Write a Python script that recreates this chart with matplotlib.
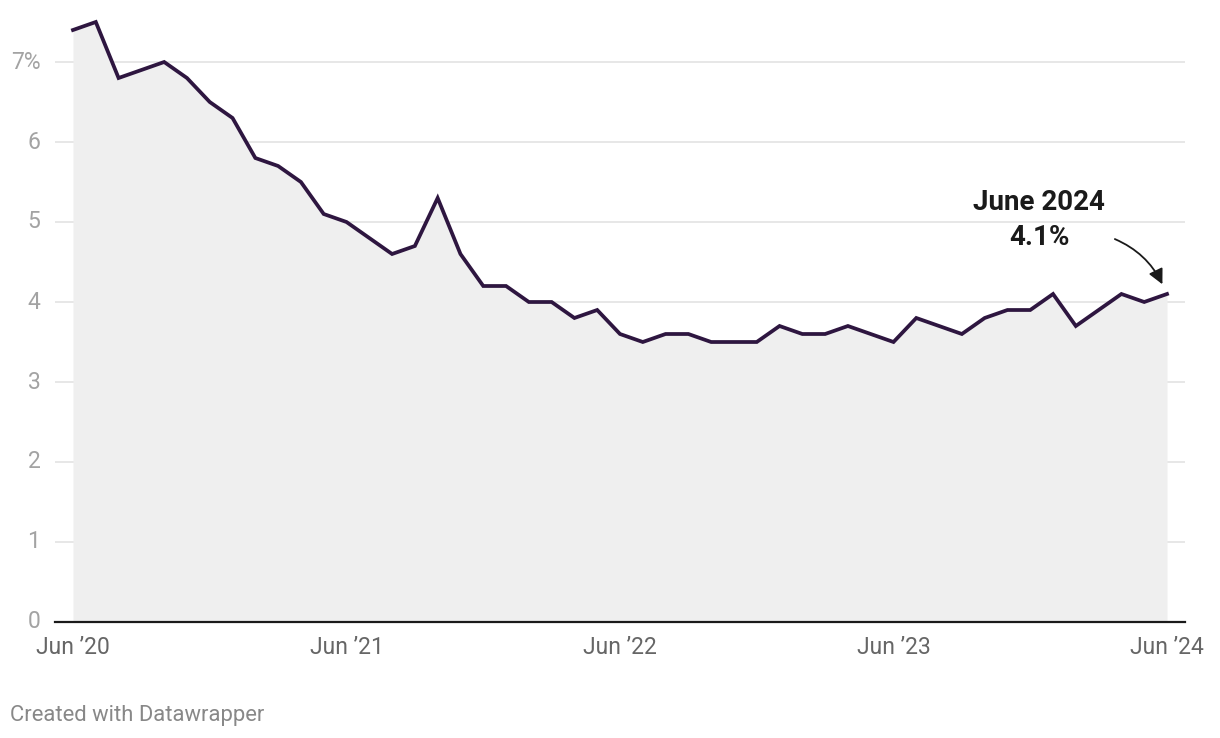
import matplotlib
matplotlib.use("Agg")
import matplotlib.pyplot as plt
import numpy as np

plt.rcParams['font.family'] = ['Roboto', 'DejaVu Sans']

# Monthly values Jun 2020 .. Jun 2024
values = [7.4, 7.5, 6.8, 6.9, 7.0, 6.8, 6.5, 6.3, 5.8, 5.7, 5.5, 5.1,
          5.0, 4.8, 4.6, 4.7, 5.3, 4.6, 4.2, 4.2, 4.0, 4.0, 3.8, 3.9,
          3.6, 3.5, 3.6, 3.6, 3.5, 3.5, 3.5, 3.7, 3.6, 3.6, 3.7, 3.6,
          3.5, 3.8, 3.7, 3.6, 3.8, 3.9, 3.9, 4.1, 3.7, 3.9, 4.1, 4.0,
          4.1]
x_tick_pos = [0, 12, 24, 36, 48]
x_tick_labels = ["Jun \u201920", "Jun \u201921", "Jun \u201922", "Jun \u201923", "Jun \u201924"]
y_ticks = [0, 1, 2, 3, 4, 5, 6, 7]
y_tick_labels = ["0", "1", "2", "3", "4", "5", "6", "7%"]

W, H = 1220, 738
fig = plt.figure(figsize=(W / 100, H / 100), dpi=100)
left_px, right_px = 55, 1185
bottom_px = 622
ymax = 7.7
top_px = bottom_px - ymax * 80
ax = fig.add_axes([left_px / W, (H - bottom_px) / H, (right_px - left_px) / W, (bottom_px - top_px) / H])

pxm = (1167 - 73) / 48
pad = (73 - left_px) / pxm
ax.set_xlim(-pad, 48 + (right_px - 1167) / pxm)
ax.set_ylim(0, ymax)

x = np.arange(len(values))
ax.fill_between(x, values, 0, color='#efefef', lw=0, zorder=1)
for t in y_ticks[1:]:
    ax.axhline(t, color='#e0e0e0', lw=1.1, zorder=0.5)
ax.axhline(0, color='#1a1a1a', lw=1.6, zorder=3, clip_on=False)
ax.plot(x, values, color='#2e1640', lw=2.7, zorder=4, solid_joinstyle='miter', clip_on=False)

for s in ax.spines.values():
    s.set_visible(False)
ax.set_yticks(y_ticks)
ax.set_yticklabels(y_tick_labels)
ax.set_xticks(x_tick_pos)
ax.set_xticklabels(x_tick_labels)
ax.tick_params(axis='y', length=0, pad=10.5, labelsize=16.5, labelcolor='#a3a3a3')
ax.tick_params(axis='x', length=0, pad=10, labelsize=16.5, labelcolor='#666666')
for lbl in ax.get_yticklabels():
    lbl.set_verticalalignment('center')

ax.text(42.4, 5.25, "June 2024", ha='center', va='center', fontsize=20, fontweight='bold', color='#1a1a1a')
ax.text(42.4, 4.81, "4.1%", ha='center', va='center', fontsize=20, fontweight='bold', color='#1a1a1a')
ax.annotate("", xy=(47.85, 4.19), xytext=(45.6, 4.8),
            arrowprops=dict(arrowstyle='-|>,head_length=0.9,head_width=0.45', color='#1a1a1a', lw=1.3,
                            connectionstyle='arc3,rad=-0.2'), zorder=5)

fig.text(10 / W, 1 - 715 / H, "Created with Datawrapper", ha='left', va='center', fontsize=15.8, color='#888888')

fig.savefig("out.png", dpi=100, facecolor='white')
